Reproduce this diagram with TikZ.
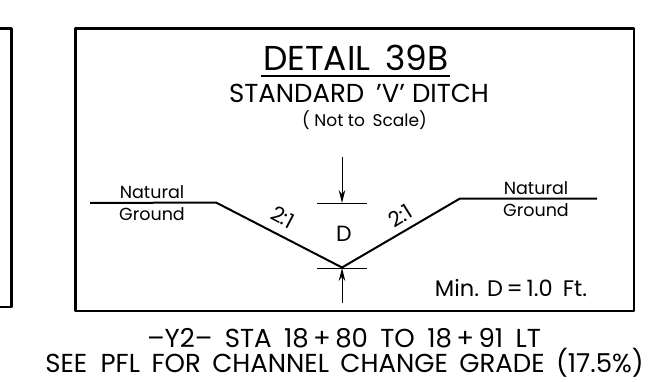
\documentclass[tikz,border=0pt]{standalone}
\usepackage{fontspec}
\setmainfont{Poppins}
\usetikzlibrary{arrows.meta}
\tikzset{
  frame/.style={line width=2.2pt,line join=round},
  slope/.style={line width=2pt,line join=round},
  thin dim/.style={line width=1pt},
  dim arrow/.style={line width=1pt,-{Stealth[length=13pt,width=6.5pt]}},
  lab/.style={inner sep=0pt,anchor=center},
}
\begin{document}
\begin{tikzpicture}[x=1pt,y=-1pt]
\useasboundingbox (0,0) rectangle (655,382);
\draw[frame] (0,28.5) -- (11.5,28.5) -- (11.5,307) -- (0,307);
\draw[frame] (75.5,28.5) rectangle (634,311);
% ground line
\coordinate (gl) at (90,203);
\coordinate (tl) at (216,202.5);
\coordinate (v) at (342,267.5);
\coordinate (tr) at (460,198.5);
\coordinate (gr) at (597,198.5);
\draw[slope] (gl) -- (tl) -- (v) -- (tr) -- (gr);
% dimension
\coordinate (d1) at (317,203);
\coordinate (d2) at (367,203);
\coordinate (d3) at (317,268);
\coordinate (d4) at (367,268);
\coordinate (a1) at (342,157);
\coordinate (a2) at (342,203);
\coordinate (a3) at (342,303);
\coordinate (a4) at (342,268);
\draw[thin dim] (d1) -- (d2);
\draw[thin dim] (d3) -- (d4);
\draw[dim arrow] (a1) -- (a2);
\draw[dim arrow] (a3) -- (a4);
% text
\node[lab] (title) at (356,57.5) {\fontsize{34.5}{34}\selectfont DETAIL\hspace{6pt} 39B};
\coordinate (ul) at (261,76);
\coordinate (ur) at (450,76);
\draw[line width=2pt] (ul) -- (ur);
\node[lab] (sub) at (359,93) {\fontsize{26}{26}\selectfont STANDARD\hspace{5pt} ’V’ DITCH};
\node[lab] (ns) at (364.5,120) {\fontsize{17}{17}\selectfont ( Not to\hspace{3pt} Scale)};
\node[lab] (n1) at (152,192) {\fontsize{17.5}{18}\selectfont Natural};
\node[lab] (g1) at (152,214) {\fontsize{17.5}{18}\selectfont Ground};
\node[lab] (n2) at (536,188) {\fontsize{17.5}{18}\selectfont Natural};
\node[lab] (g2) at (536,210) {\fontsize{17.5}{18}\selectfont Ground};
\node[lab,rotate=-28] (sl) at (283,217) {\fontsize{21}{21}\selectfont 2:1};
\node[lab,rotate=32] (sr) at (400,216) {\fontsize{21}{21}\selectfont 2:1};
\node[lab] (dd) at (344,234) {\fontsize{22}{22}\selectfont D};
\node[lab] (min) at (511,288) {\fontsize{22.5}{23}\selectfont Min. D\,=\,1.0\hspace{4pt} Ft.};
\node[lab] (l1) at (344,338) {\fontsize{26}{26}\selectfont –Y2–\hspace{5.5pt} STA\hspace{5.5pt} 18\,+\,80\hspace{5.5pt} TO\hspace{5.5pt} 18\,+\,91\hspace{5.5pt} LT};
\node[lab] (l2) at (344.5,363) {\fontsize{26}{26}\selectfont SEE\hspace{6.5pt} PFL\hspace{4.5pt} FOR\hspace{4.5pt} CHANNEL\hspace{4.5pt} CHANGE\hspace{4.5pt} GRADE\hspace{4.5pt} (17.5\%)};
\end{tikzpicture}
\end{document}
